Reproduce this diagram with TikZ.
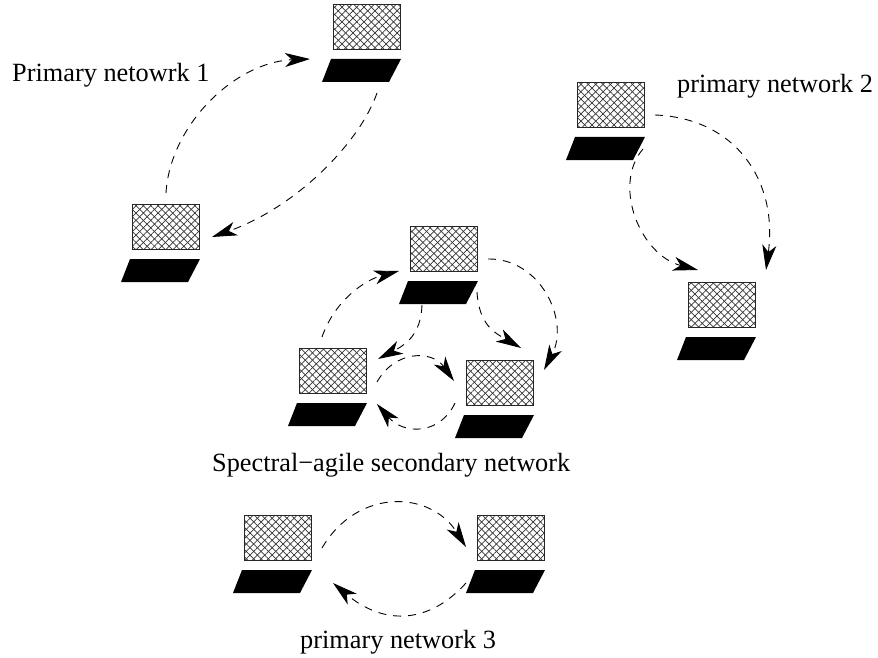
\documentclass[tikz,border=0pt]{standalone}
\usepackage{fontspec}
\setmainfont{Liberation Serif}
\usetikzlibrary{arrows.meta,patterns.meta}
\tikzset{
  x=1pt,y=-1pt,
  screen/.style={draw=black!85,line width=1pt,minimum width=67pt,minimum height=45pt,inner sep=0pt,anchor=north west,
    preaction={pattern={Lines[angle=45,distance=5.2pt,line width=.7pt]},pattern color=black!80},
    pattern={Lines[angle=-45,distance=5.2pt,line width=.7pt]},pattern color=black!80},
  link/.style={line width=0.9pt,dash pattern=on 8pt off 7pt,-{Stealth[length=25pt,width=14pt,inset=7pt]}},
  lbl/.style={font=\fontsize{26.3}{30}\selectfont,inner sep=0pt,anchor=base west},
  keyb/.style={fill=black,draw=none}
}
\newcommand{\computer}[3]{%
  \node[screen] (#1) at (#2,#3) {};
  \fill[keyb] (#2-2,#3+55) -- (#2+68,#3+55) -- (#2+56,#3+78) -- (#2-11,#3+78) -- cycle;
}
\newcommand{\lnk}[6]{%
  \draw[link] ([shift={(#2)}]#1.north west) .. controls +(#3) and +(#6) .. ([shift={(#5)}]#4.north west);
}
\begin{document}
\begin{tikzpicture}
\useasboundingbox (0,0) rectangle (878,658);
\computer{A}{333}{4}
\computer{B}{132}{204}
\computer{C}{577}{82}
\computer{D}{688}{282}
\computer{E}{410}{226}
\computer{F}{299}{348}
\computer{G}{466}{360}
\computer{H}{244}{515}
\computer{I}{477}{515}
\node[lbl] (l1) at (12,82) {Primary netowrk 1};
\node[lbl] (l2) at (677,93) {primary network 2};
\node[lbl] (l3) at (212,471) {Spectral−agile secondary network};
\node[lbl] (l4) at (300,648) {primary network 3};
\lnk{B}{34,-11}{4,-68}{A}{-23,55}{-75,3}
\lnk{A}{44,89}{-17,49}{B}{80,33}{85,-30}
\lnk{C}{78,33}{80,3}{D}{78,-12}{12,-90}
\lnk{C}{66,67}{-31,36}{D}{10,-12}{-58,-15}
\lnk{E}{78,33}{52,-1}{G}{78,10}{26,-50}
\lnk{E}{67,66}{2,33}{G}{55,-12}{-26,-15}
\lnk{E}{12,79}{-1,30}{F}{79,11}{27,-14}
\lnk{F}{23,-11}{13,-37}{E}{-11,45}{-34,9}
\lnk{F}{78,34}{18,-32}{G}{-12,21}{-22,-31}
\lnk{G}{-11,43}{-15,32}{F}{78,56}{27,31}
\lnk{H}{78,33}{35,-60}{I}{-11,32}{-36,-57}
\lnk{I}{-11,68}{-38,42}{H}{89,68}{50,42}
\end{tikzpicture}
\end{document}
